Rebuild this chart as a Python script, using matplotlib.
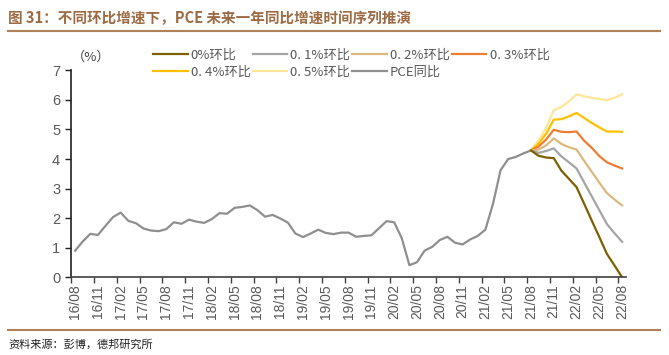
import numpy as np
import matplotlib.pyplot as plt
from matplotlib.lines import Line2D

plt.rcParams['font.family'] = ['Liberation Sans', 'Noto Sans CJK SC', 'DejaVu Sans']

# PCE 同比, 16/08 - 21/08 (monthly)
pce = [0.90, 1.21, 1.47, 1.43, 1.74, 2.04, 2.19, 1.91, 1.83, 1.65, 1.58, 1.56,
       1.63, 1.86, 1.81, 1.95, 1.88, 1.84, 1.97, 2.17, 2.15, 2.35, 2.38, 2.43,
       2.27, 2.05, 2.11, 1.99, 1.85, 1.48, 1.36, 1.48, 1.61, 1.50, 1.46, 1.51,
       1.51, 1.37, 1.40, 1.42, 1.66, 1.90, 1.86, 1.32, 0.41, 0.51, 0.90, 1.03,
       1.26, 1.37, 1.17, 1.11, 1.28, 1.40, 1.61, 2.48, 3.62, 4.00, 4.07, 4.19,
       4.29]

# 推演, 21/08 - 22/08
mom_00 = [4.29, 4.11, 4.05, 4.03, 3.61, 3.33, 3.05, 2.49, 1.92, 1.36, 0.79, 0.40, 0.00]
mom_01 = [4.29, 4.21, 4.27, 4.36, 4.09, 3.89, 3.68, 3.21, 2.74, 2.27, 1.80, 1.49, 1.20]
mom_02 = [4.29, 4.32, 4.46, 4.70, 4.51, 4.40, 4.32, 3.94, 3.57, 3.20, 2.85, 2.63, 2.43]
mom_03 = [4.29, 4.42, 4.66, 4.99, 4.92, 4.91, 4.93, 4.62, 4.38, 4.10, 3.89, 3.78, 3.68]
mom_04 = [4.29, 4.52, 4.86, 5.33, 5.35, 5.44, 5.56, 5.39, 5.22, 5.07, 4.93, 4.93, 4.92]
mom_05 = [4.29, 4.62, 5.06, 5.65, 5.76, 5.95, 6.19, 6.12, 6.07, 6.03, 5.99, 6.07, 6.19]

tick_labels = ['16/08', '16/11', '17/02', '17/05', '17/08', '17/11', '18/02',
               '18/05', '18/08', '18/11', '19/02', '19/05', '19/08', '19/11',
               '20/02', '20/05', '20/08', '20/11', '21/02', '21/05', '21/08',
               '21/11', '22/02', '22/05', '22/08']

names = ['0%环比', '0. 1%环比', '0. 2%环比', '0. 3%环比', '0. 4%环比', '0. 5%环比', 'PCE同比']
colors = ['#7f6000', '#a5a5a5', '#dcb87c', '#ed7d31', '#ffc000', '#ffe699', '#8f8f8f']


def main():
    fig = plt.figure(figsize=(6.69, 3.55), dpi=100)
    ax = fig.add_axes([0.1066, 0.2189, 0.829, 0.583])

    x_pce = np.arange(len(pce))
    x_proj = np.arange(len(pce) - 1, len(pce) - 1 + len(mom_00))

    handles = {}
    handles[6], = ax.plot(x_pce, pce, color=colors[6], lw=1.6)
    proj = [mom_00, mom_01, mom_02, mom_03, mom_04, mom_05]
    for i in [5, 4, 3, 2, 1, 0]:
        handles[i], = ax.plot(x_proj, proj[i], color=colors[i], lw=1.6)

    ax.set_xlim(-0.5, len(pce) - 1 + len(mom_00) - 1 + 0.5)
    ax.set_ylim(0, 7)
    ax.set_yticks(range(8))

    pos = np.arange(len(tick_labels)) * 3
    ax.set_xticks(pos)
    ax.set_xticklabels(tick_labels, rotation=90, fontsize=10, color='#595959')
    ax.set_xticks(pos - 0.5, minor=True)
    ax.tick_params(axis='x', which='major', length=0, pad=5)
    ax.tick_params(axis='x', which='minor', length=4, width=1, color='#404040')
    ax.tick_params(axis='y', length=4, width=1, color='#202020', labelsize=10.5,
                   labelcolor='#595959', pad=4)

    for s in ['top', 'right']:
        ax.spines[s].set_visible(False)
    ax.spines['left'].set_color('#202020')
    ax.spines['bottom'].set_color('#404040')
    ax.spines['left'].set_linewidth(1.2)
    ax.spines['bottom'].set_linewidth(1.2)

    order = [0, 4, 1, 5, 2, 6, 3]
    fig.legend([handles[i] for i in order], [names[i] for i in order],
               loc='upper left', bbox_to_anchor=(0.229, 1 - 49 / 355), ncol=4,
               frameon=False, handlelength=2.6, handletextpad=0.25,
               columnspacing=0.15, labelspacing=0.3, borderpad=0,
               borderaxespad=0, labelcolor='#595959',
               prop={'family': ['Noto Sans CJK SC'], 'size': 9.5})

    fig.text(0.136, 1 - 57 / 355, '（%）', ha='center', va='center',
             fontsize=9.5, color='#404040', family=['Noto Sans CJK SC'])

    fig.text(0.012, 1 - 18 / 355, '图 31：不同环比增速下，PCE 未来一年同比增速时间序列推演',
             fontsize=10.5, fontweight='bold', color='#9c6b43', va='center',
             family=['Noto Sans CJK SC'])
    fig.add_artist(Line2D([0.012, 0.987], [1 - 31 / 355] * 2, color='#b08058', lw=1.5))
    fig.add_artist(Line2D([0.012, 0.987], [1 - 330 / 355] * 2, color='#b08058', lw=1.5))
    fig.text(0.012, 1 - 344 / 355, '资料来源：彭博，德邦研究所', fontsize=8,
             va='center', color='#202020', family=['Noto Sans CJK SC'])

    fig.savefig('out.png', dpi=100)


if __name__ == '__main__':
    main()
